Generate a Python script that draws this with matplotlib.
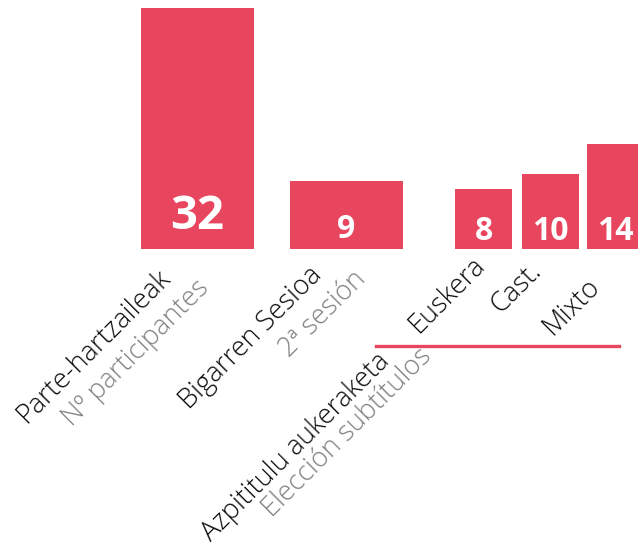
import numpy as np
import matplotlib
matplotlib.use('Agg')
from matplotlib import pyplot as plt

# values per bar
values = [32, 9, 8, 10, 14]

# bar placement on a 638 px wide canvas
centers = [197.5, 346, 483.5, 550.5, 615.5]
widths = [113, 113, 57, 57, 57]
label_sizes = [34, 23, 23, 23, 23]
label_lift = [20, 11, 9, 9, 9]

# rotated captions: (text, colour, start x, start y in px from top)
captions = [
    ('Parte-hartzaileak', 'black', 26, 424),
    ('Nº participantes', 'grey', 72, 427),
    ('Bigarren Sesioa', 'black', 189, 410),
    ('2ª sesión', 'grey', 289, 358),
    ('Euskera', 'black', 418, 334),
    ('Cast.', 'black', 500, 314),
    ('Mixto', 'black', 552, 336),
    ('Azpititulu aukeraketa', 'black', 211, 542),
    ('Elección subtítulos', 'grey', 272, 518),
]

RED = '#e8455f'
W, H = 638, 547
base = 249      # baseline, px from top
scale = 7.53    # px per unit

plt.rcParams['font.family'] = ['Open Sans', 'DejaVu Sans']

fig = plt.figure(figsize=(W / 100, H / 100), dpi=100)
ax = fig.add_axes([0, (H - base) / H, 1, base / H])
ax.set_xlim(0, W)
ax.set_ylim(0, base / scale)
ax.axis('off')

ax.bar(centers, values, width=widths, color=RED, clip_on=False)

for x, v, fs, lift in zip(centers, values, label_sizes, label_lift):
    ax.annotate(str(v), (x, 0), xytext=(0, lift * 0.72), textcoords='offset points',
                ha='center', va='baseline', color='white', fontsize=fs, fontweight='bold')

for s, c, x, y in captions:
    col = '#808080' if c == 'grey' else '#0a0a0a'
    fig.text(x / W, (H - y) / H, s, rotation=45, rotation_mode='anchor',
             ha='left', va='baseline', color=col, fontsize=19.5, fontweight='light')

# underline for the subtitle group
fig.add_artist(plt.Line2D([376 / W, 619 / W], [(H - 345.5) / H] * 2, color=RED, lw=2.4))

fig.savefig('out.png', dpi=100, facecolor='white')
